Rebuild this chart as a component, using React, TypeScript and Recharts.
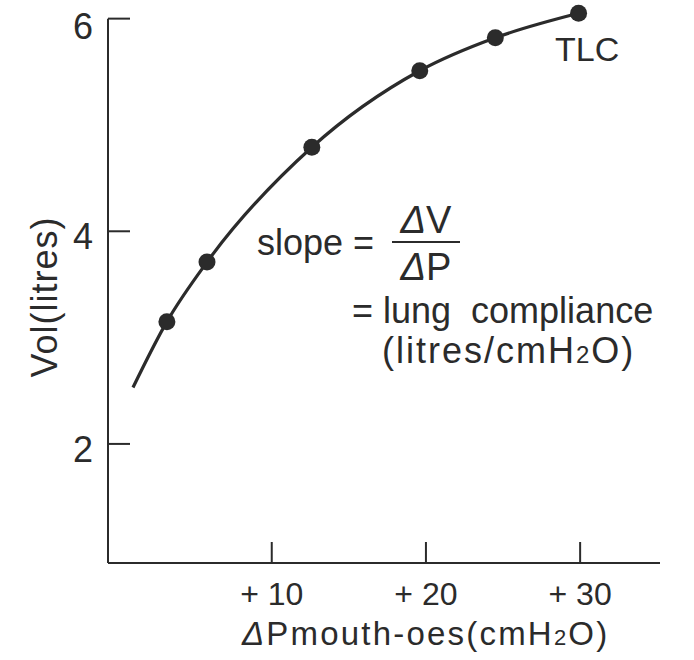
import { ComposedChart, Line, XAxis, YAxis, ReferenceLine } from 'recharts';

// pressure-volume curve of the lung
const pressure = [1.0, 3.2, 5.8, 12.6, 19.6, 24.5, 29.9];
const volume = [2.53, 3.15, 3.71, 4.79, 5.51, 5.82, 6.05];
const measured = [false, true, true, true, true, true, true];

const xTicks = [10, 20, 30];
const yTicks = [2, 4, 6];

const data = pressure.map((p, i) => ({ p, v: volume[i], m: measured[i] }));

const INK = '#2b2b2b';
const FONT = '"Liberation Sans", Arial, sans-serif';

const Dot = (props: any) => {
  const { cx, cy, payload, index } = props;
  if (!payload.m) return <g key={index} />;
  return <circle key={index} cx={cx} cy={cy} r={8.5} fill={INK} />;
};

export default function App() {
  return (
    <div style={{ position: 'absolute', left: 0, top: 0, background: '#fff' }}>
      <ComposedChart
        width={694}
        height={660}
        data={data}
        margin={{ top: 8, right: 34, bottom: 0, left: 0 }}
        style={{ fontFamily: FONT }}
      >
        <XAxis
          type="number"
          dataKey="p"
          domain={[-0.62, 35.18]}
          ticks={xTicks}
          tickFormatter={(v) => `+ ${v}`}
          height={97}
          tickSize={-21}
          tickMargin={40}
          axisLine={{ stroke: INK, strokeWidth: 2 }}
          tickLine={{ stroke: INK, strokeWidth: 2 }}
          tick={{ fill: INK, fontSize: 32, fontFamily: FONT }}
        />
        <YAxis
          type="number"
          dataKey="v"
          domain={[0.88, 6.1]}
          ticks={yTicks}
          width={108}
          tickSize={-22}
          tickMargin={37}
          axisLine={false}
          tickLine={{ stroke: INK, strokeWidth: 2 }}
          tick={{ fill: INK, fontSize: 36, fontFamily: FONT, dy: 5 }}
        />
        <ReferenceLine
          segment={[{ x: -0.62, y: 0.88 }, { x: -0.62, y: 6 }]}
          stroke={INK}
          strokeWidth={2}
        />
        <Line
          type="monotone"
          dataKey="v"
          stroke={INK}
          strokeWidth={3.2}
          dot={<Dot />}
          activeDot={false}
          isAnimationActive={false}
        />

        <text x={44} y={297} transform="rotate(-90 44 297)" textAnchor="middle" dominantBaseline="central" fontSize={36} letterSpacing={1} fill={INK} fontFamily={FONT}>
          Vol(litres)
        </text>
        <text x={242} y={645} fontSize={33} letterSpacing={2.2} fill={INK} fontFamily={FONT}>
          <tspan fontStyle="italic">Δ</tspan>Pmouth-oes(cmH<tspan fontSize={22}>2</tspan>O)
        </text>

        <text x={555} y={61} fontSize={34} fill={INK} fontFamily={FONT}>TLC</text>

        <text x={257} y={255} fontSize={36} fill={INK} fontFamily={FONT}>slope =</text>
        <text x={426} y={233} textAnchor="middle" fontSize={38} fill={INK} fontFamily={FONT}>
          <tspan fontStyle="italic">Δ</tspan>V
        </text>
        <line x1={392} y1={242} x2={460} y2={242} stroke={INK} strokeWidth={2} />
        <text x={426} y={280} textAnchor="middle" fontSize={38} fill={INK} fontFamily={FONT}>
          <tspan fontStyle="italic">Δ</tspan>P
        </text>
        <text x={352} y={323} fontSize={36} fill={INK} fontFamily={FONT} style={{ whiteSpace: 'pre' }}>
          = lung  compliance
        </text>
        <text x={382} y={363} fontSize={36} letterSpacing={2} fill={INK} fontFamily={FONT}>
          (litres/cmH<tspan fontSize={24}>2</tspan>O)
        </text>
      </ComposedChart>
    </div>
  );
}
